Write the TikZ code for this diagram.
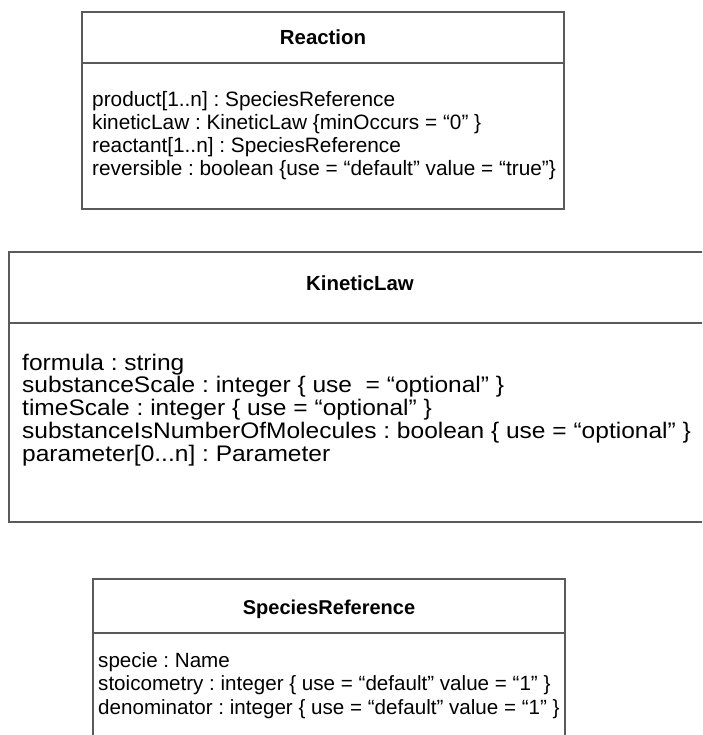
\documentclass[tikz,border=0pt]{standalone}
\usepackage{fontspec}
\setmainfont{Liberation Sans}
\newfontfamily\widesans[FakeStretch=1.09]{Liberation Sans}
\frenchspacing
\usepackage{tikz}
\usetikzlibrary{positioning}

\definecolor{boxline}{HTML}{5A5A5A}

\tikzset{
  umlbox/.style={draw=boxline, line width=1.1pt},
  classname/.style={font=\bfseries\fontsize{20.4}{24}\selectfont, inner sep=0pt, anchor=base},
  % base of a multi-line node is its last line
  attrlist/.style={align=left, anchor=base west, inner sep=0pt,
    font=\fontsize{20.8}{23.3}\selectfont},
}

\begin{document}
\begin{tikzpicture}[x=1pt,y=-1pt]
  \useasboundingbox (0,0) rectangle (702,735);
  \clip (0,0) rectangle (702,735);

  % Reaction
  \draw[umlbox] (82,12) rectangle (564,209);
  \draw[umlbox] (82,63) -- (564,63);
  \node[classname] (reaction) at (323,45) {Reaction};
  \node[attrlist] (reactionattrs) at (92,176) {%
    product[1..n] : SpeciesReference\\
    kineticLaw : KineticLaw \{minOccurs = “0” \}\\
    reactant[1..n] : SpeciesReference\\
    reversible : boolean \{use = “default” value = “true”\}};

  % KineticLaw
  \draw[umlbox] (9,252) rectangle (712,522);
  \draw[umlbox] (9,323) -- (712,323);
  \node[classname] (kineticlaw) at (360,290) {KineticLaw};
  \node[attrlist, font=\widesans\fontsize{22.5}{22.7}\selectfont] (kineticlawattrs) at (22,461) {%
    formula : string\\
    substanceScale : integer \{ use\ \ = “optional” \}\\
    timeScale : integer \{ use = “optional” \}\\
    substanceIsNumberOfMolecules : boolean \{ use = “optional” \}\\
    parameter[0...n] : Parameter};

  % SpeciesReference
  \draw[umlbox] (93,579) rectangle (565,760);
  \draw[umlbox] (93,633) -- (565,633);
  \node[classname, font=\bfseries\fontsize{20}{24}\selectfont] (speciesref) at (329,614) {SpeciesReference};
  \node[attrlist, font=\fontsize{20.6}{23.5}\selectfont] (speciesrefattrs) at (98,714) {%
    specie : Name\\
    stoicometry : integer \{ use = “default” value = “1” \}\\
    denominator : integer \{ use = “default” value = “1” \}};
\end{tikzpicture}
\end{document}
